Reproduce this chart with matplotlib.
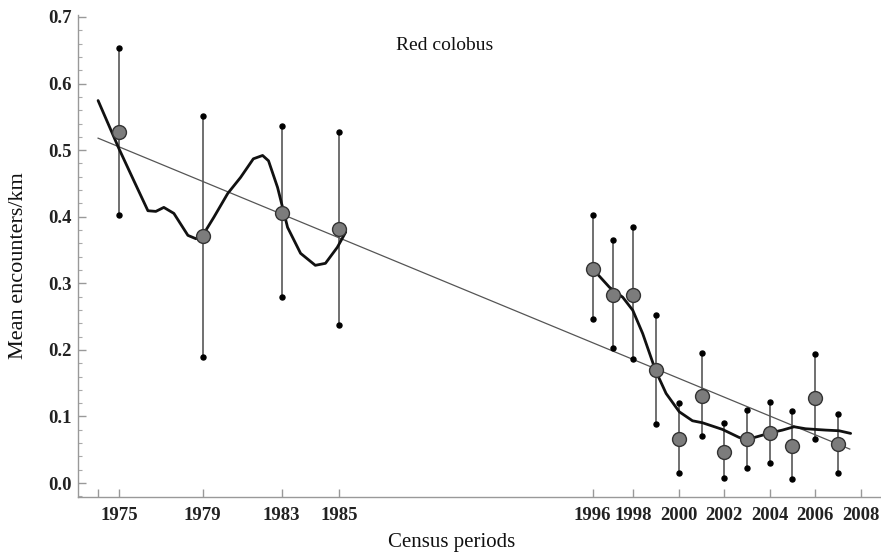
import numpy as np
import matplotlib
matplotlib.use("Agg")
import matplotlib.pyplot as plt
from matplotlib.ticker import MultipleLocator, NullLocator

# census years and mean encounters/km with upper/lower interval ends
years = [1975, 1979, 1983, 1985, 1996, 1997, 1998, 1999, 2000, 2001, 2002, 2003, 2004, 2005, 2006, 2007]
means = [0.527, 0.371, 0.406, 0.382, 0.322, 0.283, 0.283, 0.170, 0.066, 0.131, 0.046, 0.066, 0.075, 0.056, 0.127, 0.058]
upper = [0.653, 0.552, 0.536, 0.528, 0.403, 0.365, 0.384, 0.253, 0.120, 0.195, 0.090, 0.110, 0.122, 0.108, 0.194, 0.103]
lower = [0.403, 0.190, 0.279, 0.238, 0.246, 0.203, 0.186, 0.089, 0.015, 0.070, 0.008, 0.022, 0.030, 0.006, 0.066, 0.015]

# smoothed trend, two pieces
smooth1_x = [1974.0, 1975.0, 1975.71, 1976.38, 1976.76, 1977.14, 1977.62, 1978.29, 1978.67, 1979.0,
             1979.56, 1980.27, 1980.92, 1981.57, 1982.04, 1982.34, 1982.8, 1983.21, 1983.66, 1984.17,
             1984.52, 1984.93, 1985.28]
smooth1_y = [0.5745, 0.502, 0.454, 0.409, 0.408, 0.414, 0.405, 0.372, 0.367, 0.372,
             0.399, 0.435, 0.459, 0.487, 0.492, 0.484, 0.444, 0.384, 0.345, 0.327,
             0.330, 0.354, 0.377]
smooth2_x = [1996.0, 1996.83, 1997.48, 1997.97, 1998.41, 1998.97, 1999.44, 2000.02, 2000.6, 2001.04,
             2001.92, 2002.65, 2003.02, 2003.54, 2004.05, 2004.56, 2005.07, 2005.58, 2006.46, 2007.05,
             2007.56]
smooth2_y = [0.322, 0.294, 0.279, 0.2595, 0.2245, 0.1695, 0.1345, 0.107, 0.0935, 0.0905,
             0.0805, 0.0685, 0.0655, 0.0705, 0.0755, 0.0795, 0.0845, 0.0815, 0.0795, 0.0785,
             0.0745]

# linear fit end points
fit_x = [1974.0, 2007.52]
fit_y = [0.518, 0.051]

tick_years = [1974, 1975, 1979, 1983, 1985, 1996, 1998, 2000, 2002, 2004, 2006, 2008]
tick_labels = ["", "1975", "1979", "1983", "1985", "1996", "1998", "2000", "2002", "2004", "2006", "2008"]
y_ticks = [0.0, 0.1, 0.2, 0.3, 0.4, 0.5, 0.6, 0.7]

# the original axis is not quite linear in years; mimic it with a piecewise scale
scale_years = np.array([1960.0, 1974, 1975, 1979, 1983, 1985, 1996, 1998, 2008, 2020])
scale_pos = np.array([-200.0, 97, 118, 202, 281, 339, 593, 634, 862, 1136])


def fwd(x):
    return np.interp(x, scale_years, scale_pos)


def inv(p):
    return np.interp(p, scale_pos, scale_years)


serif = "Liberation Serif"

fig = plt.figure(figsize=(8.81, 5.60), dpi=100)
ax = fig.add_axes([78 / 881, 1 - 497 / 560, 802 / 881, (497 - 15) / 560])
ax.set_xscale("function", functions=(fwd, inv))

yerr = [np.array(means) - np.array(lower), np.array(upper) - np.array(means)]
ax.errorbar(years, means, yerr=yerr, fmt="none", ecolor="#707070", elinewidth=1.4,
            capsize=0, zorder=2)
ax.plot(years, upper, "o", ms=3.6, color="black", zorder=3)
ax.plot(years, lower, "o", ms=3.6, color="black", zorder=3)

ax.plot(fit_x, fit_y, color="#555555", lw=0.9, zorder=2)
ax.plot(smooth1_x, smooth1_y, color="#111111", lw=2.0, zorder=4,
        solid_joinstyle="round", solid_capstyle="round")
ax.plot(smooth2_x, smooth2_y, color="#111111", lw=2.0, zorder=4,
        solid_joinstyle="round", solid_capstyle="round")
ax.plot(years, means, "o", ms=10, mfc="#7c7c7c", mec="#333333", mew=1.0, zorder=5)

ax.set_xlim(1973.05, 2008.85)
ax.set_ylim(-0.021, 0.703)

ax.set_xticks(tick_years)
ax.set_xticklabels(tick_labels)
ax.xaxis.set_minor_locator(NullLocator())
ax.set_yticks(y_ticks)
ax.set_yticklabels(["%.1f" % v for v in y_ticks])
ax.yaxis.set_minor_locator(MultipleLocator(0.02))

for spine in ["top", "right"]:
    ax.spines[spine].set_visible(False)
for spine in ["left", "bottom"]:
    ax.spines[spine].set_color("#999999")
    ax.spines[spine].set_linewidth(1.0)

ax.tick_params(axis="both", which="major", direction="in", length=6, width=1.0, color="#999999",
               labelsize=13.5)
ax.tick_params(axis="x", which="major", pad=7)
ax.tick_params(axis="y", which="major", pad=4.5)
ax.tick_params(axis="y", which="minor", direction="in", length=3, width=0.8, color="#aaaaaa")
for lab in ax.get_xticklabels() + ax.get_yticklabels():
    lab.set_fontfamily(serif)
    lab.set_fontweight("bold")
    lab.set_color("#222222")

ax.set_xlabel("Census periods", fontsize=15, fontfamily=serif, color="#111111")
ax.xaxis.set_label_coords((452 - 78) / 802, -(533 - 497) / 482)
ax.set_ylabel("Mean encounters/km", fontsize=16, fontfamily=serif, color="#111111")
ax.yaxis.set_label_coords(-(78 - 28) / 802, (497 - 266) / 482)

ax.text((445 - 78) / 802, (497 - 45) / 482, "Red colobus", transform=ax.transAxes,
        ha="center", va="center", fontsize=14, fontfamily=serif, color="#111111")

fig.savefig("out.png", dpi=100)
